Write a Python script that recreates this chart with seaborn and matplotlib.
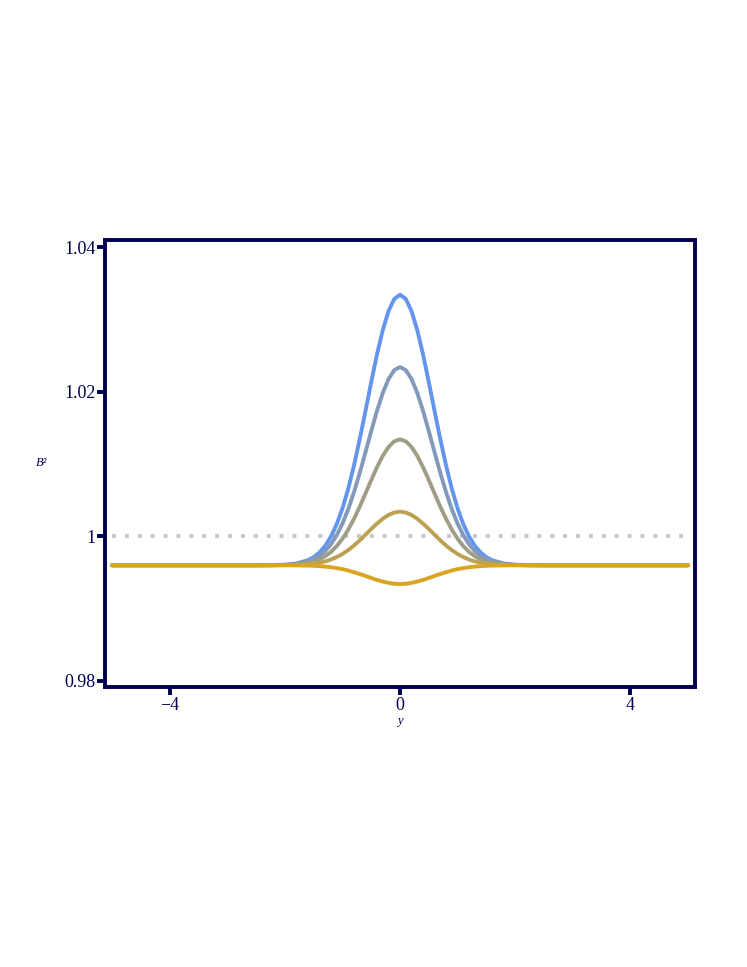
import numpy as np
import pandas as pd
import seaborn as sns
import matplotlib
matplotlib.use("Agg")
import matplotlib.pyplot as plt

# sample points (curves are symmetric about y = 0)
y_right = [0.0, 0.1, 0.2, 0.3, 0.4, 0.5, 0.6, 0.7, 0.8, 0.9, 1.0, 1.1, 1.2, 1.3,
           1.4, 1.5, 1.6, 1.8, 2.0, 2.2, 2.4, 3.0, 4.0, 5.0]
y_pts = [-v for v in y_right[:0:-1]] + y_right

b2_right_1 = [1.03340, 1.03282, 1.03113, 1.02849, 1.02513, 1.02131, 1.01731, 1.01339,
              1.00976, 1.00655, 1.00384, 1.00165, 0.99994, 0.99867, 0.99775, 0.99711,
              0.99669, 0.99624, 0.99607, 0.99602, 0.99600, 0.99600, 0.99600, 0.99600]
b2_right_2 = [1.02340, 1.02298, 1.02174, 1.01981, 1.01734, 1.01454, 1.01161, 1.00874,
              1.00608, 1.00373, 1.00174, 1.00014, 0.99889, 0.99795, 0.99728, 0.99681,
              0.99650, 0.99617, 0.99605, 0.99601, 0.99600, 0.99600, 0.99600, 0.99600]
b2_right_3 = [1.01340, 1.01313, 1.01235, 1.01112, 1.00955, 1.00777, 1.00591, 1.00409,
              1.00240, 1.00091, 0.99965, 0.99863, 0.99783, 0.99724, 0.99681, 0.99652,
              0.99632, 0.99611, 0.99603, 0.99601, 0.99600, 0.99600, 0.99600, 0.99600]
b2_right_4 = [1.00340, 1.00329, 1.00295, 1.00243, 1.00176, 1.00101, 1.00022, 0.99944,
              0.99872, 0.99809, 0.99755, 0.99712, 0.99678, 0.99653, 0.99635, 0.99622,
              0.99614, 0.99605, 0.99601, 0.99600, 0.99600, 0.99600, 0.99600, 0.99600]
b2_right_5 = [0.99340, 0.99344, 0.99356, 0.99374, 0.99398, 0.99424, 0.99452, 0.99479,
              0.99504, 0.99527, 0.99546, 0.99561, 0.99573, 0.99581, 0.99588, 0.99592,
              0.99595, 0.99598, 0.99600, 0.99600, 0.99600, 0.99600, 0.99600, 0.99600]
curves = [b2_right_1, b2_right_2, b2_right_3, b2_right_4, b2_right_5]
curve_names = ["c1", "c2", "c3", "c4", "c5"]
curve_colors = ["#6495ED", "#8299BA", "#9F9D86", "#BCA153", "#DAA520"]

ref_level = 1.0
x_ticks = [-4, 0, 4]
x_ticklabels = ["\u22124", "0", "4"]
y_ticks = [0.98, 1.0, 1.02, 1.04]
y_ticklabels = ["0.98", "1", "1.02", "1.04"]

rows = []
for name, half in zip(curve_names, curves):
    vals = half[:0:-1] + half
    for x, b in zip(y_pts, vals):
        rows.append({"y": x, "B2": b, "curve": name})
df = pd.DataFrame(rows)

sns.set_style("white")
plt.rcParams["font.family"] = ["Liberation Serif", "DejaVu Serif"]
navy = "#000050"

fig = plt.figure(figsize=(7.47, 9.67), dpi=100)
ax = fig.add_axes([0.1406, 0.2896, 0.7898, 0.4622])

sns.lineplot(x=[y_pts[0], y_pts[-1]], y=[ref_level, ref_level], ax=ax,
             color="#C8C8C8", lw=2.9, linestyle=(0, (1.0, 2.2)), zorder=1)
sns.lineplot(data=df, x="y", y="B2", hue="curve", hue_order=curve_names,
             palette=curve_colors, legend=False, lw=2.8, ax=ax,
             sort=False, estimator=None, zorder=2)

ax.set_xlim(-5.12, 5.12)
ax.set_ylim(0.97917, 1.04097)
ax.set_xticks(x_ticks)
ax.set_xticklabels(x_ticklabels)
ax.set_yticks(y_ticks)
ax.set_yticklabels(y_ticklabels)

for s in ax.spines.values():
    s.set_color(navy)
    s.set_linewidth(2.8)
ax.tick_params(axis="both", which="major", direction="out", length=6, width=2.8,
               color=navy, labelcolor=navy, labelsize=13, pad=1,
               left=True, bottom=True, top=False, right=False)

ax.set_xlabel("y", fontstyle="italic", fontsize=9, color=navy, labelpad=1)
ax.set_ylabel("B\u00b2", fontstyle="italic", fontsize=9, color=navy,
              rotation=0, labelpad=16, va="center")

fig.savefig("out.png", dpi=100)
